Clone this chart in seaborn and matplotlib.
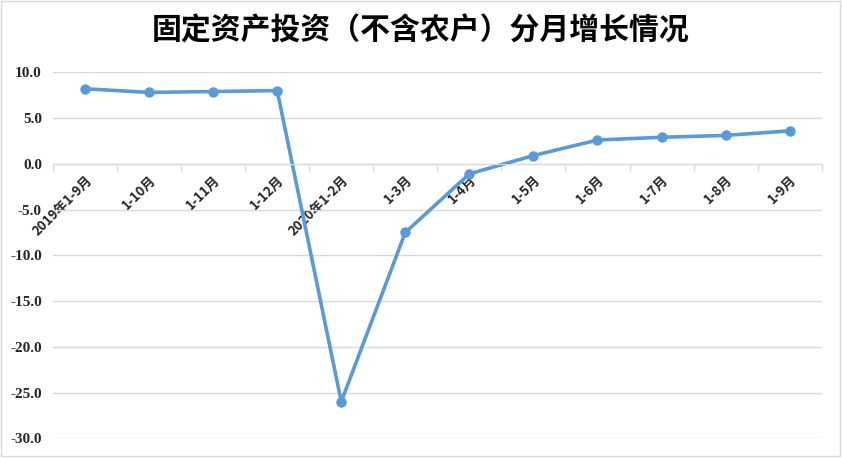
import pandas as pd
import matplotlib
matplotlib.use("Agg")
import matplotlib.pyplot as plt
import matplotlib.transforms as mtransforms
import seaborn as sns
from matplotlib.patches import Rectangle

# 数据
months = ["2019年1-9月", "1-10月", "1-11月", "1-12月", "2020年1-2月", "1-3月",
          "1-4月", "1-5月", "1-6月", "1-7月", "1-8月", "1-9月"]
growth = [8.2, 7.8, 7.9, 8.0, -26.0, -7.5, -1.1, 0.9, 2.6, 2.9, 3.1, 3.6]
y_ticks = [-30, -25, -20, -15, -10, -5, 0, 5, 10]

sns.set_style("white")
plt.rcParams['font.family'] = ['Noto Sans CJK SC', 'DejaVu Sans']

data = pd.DataFrame({"pos": range(len(months)), "growth": growth})

fig = plt.figure(figsize=(8.42, 4.58), dpi=100)
ax = fig.add_axes([53 / 842, 1 - 438.3 / 458, (821.7 - 53) / 842, (438.3 - 72.3) / 458])

sns.lineplot(data=data, x="pos", y="growth", ax=ax, color="#5B9BD5",
             linewidth=2.6, marker="o", markersize=7.5, markeredgewidth=0)

ax.set_xlim(-0.5, len(months) - 0.5)
ax.set_ylim(-30, 10)
ax.set_xlabel("")
ax.set_ylabel("")

# 网格线
ax.set_yticks(y_ticks)
ax.set_yticklabels([f"{v:.1f}" for v in y_ticks], fontfamily="Liberation Serif",
                   fontweight="bold", fontsize=11, color="#262626")
ax.yaxis.grid(True, color="#d9d9d9", linewidth=1)
ax.tick_params(axis="y", length=0, pad=8)

# x轴位于0处
for s in ["top", "right", "left"]:
    ax.spines[s].set_visible(False)
ax.spines["bottom"].set_position(("data", 0))
ax.spines["bottom"].set_color("#d9d9d9")
ax.set_xticks(range(len(months)))
ax.set_xticks([i - 0.5 for i in range(len(months) + 1)], minor=True)
ax.tick_params(axis="x", which="minor", bottom=True, length=5, color="#d9d9d9", width=1)
ax.tick_params(axis="x", which="major", bottom=True, length=0, pad=10)
ax.set_xticklabels(months, rotation=45, ha="right", va="center",
                   rotation_mode="anchor", fontweight="bold", fontsize=9.5,
                   color="#262626")
shift = mtransforms.ScaledTranslation(5 / 100, 0, fig.dpi_scale_trans)
for lbl in ax.get_xticklabels():
    lbl.set_transform(lbl.get_transform() + shift)

fig.text(0.5, 1 - 31 / 458, "固定资产投资（不含农户）分月增长情况", ha="center", va="center",
         fontsize=21.5, fontweight="heavy", color="black")

fig.patches.append(Rectangle((1 / 842, 2 / 458), 839 / 842, 455 / 458,
                             transform=fig.transFigure, fill=False,
                             edgecolor="#d9d9d9", linewidth=1))

fig.savefig("out.png", dpi=100)
